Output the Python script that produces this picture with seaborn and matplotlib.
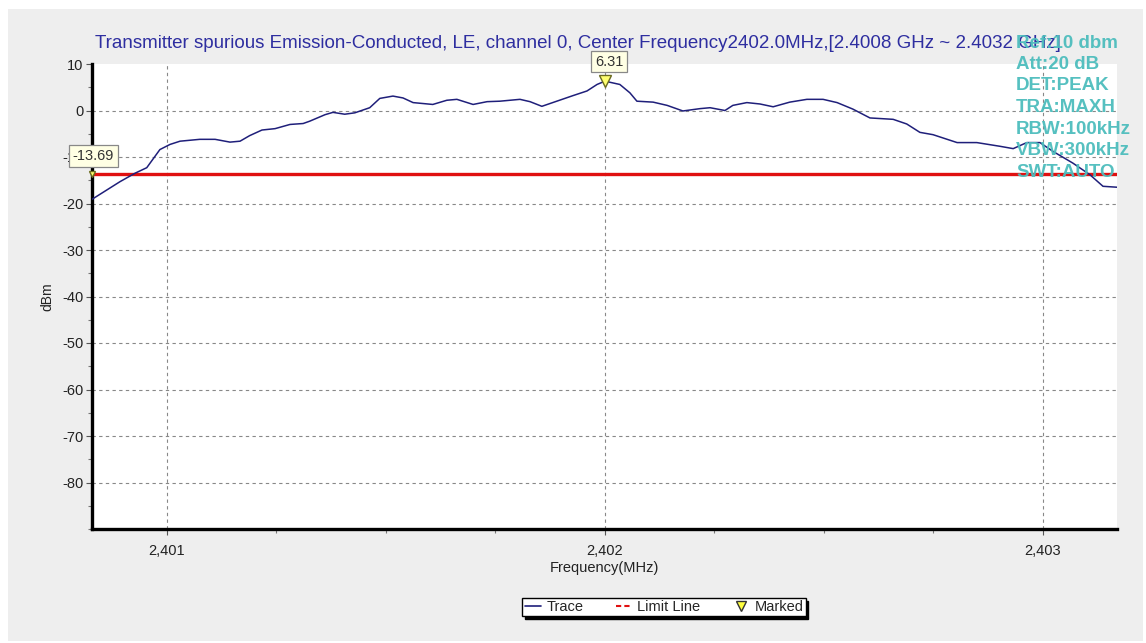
import matplotlib
matplotlib.use("Agg")
import matplotlib.pyplot as plt
from matplotlib.lines import Line2D
from matplotlib.patches import Rectangle
from matplotlib.ticker import MultipleLocator
import seaborn as sns
import pandas as pd

# ---- data ----
freq_mhz = [2400.829, 2400.893, 2400.927, 2400.954, 2400.984, 2401.007, 2401.030, 2401.075,
            2401.110, 2401.144, 2401.167, 2401.189, 2401.217, 2401.247, 2401.281, 2401.311,
            2401.326, 2401.361, 2401.379, 2401.406, 2401.429, 2401.463, 2401.486, 2401.516,
            2401.539, 2401.562, 2401.607, 2401.639, 2401.662, 2401.699, 2401.731, 2401.760,
            2401.806, 2401.829, 2401.856, 2401.890, 2401.927, 2401.959, 2401.982, 2402.000,
            2402.034, 2402.057, 2402.073, 2402.110, 2402.142, 2402.178, 2402.217, 2402.240,
            2402.274, 2402.292, 2402.324, 2402.354, 2402.384, 2402.422, 2402.461, 2402.498,
            2402.530, 2402.566, 2402.605, 2402.658, 2402.689, 2402.719, 2402.749, 2402.804,
            2402.849, 2402.902, 2402.932, 2402.963, 2402.993, 2403.023, 2403.068, 2403.107,
            2403.137, 2403.169]
level_dbm = [-19.1, -15.3, -13.5, -12.3, -8.4, -7.3, -6.6, -6.2,
             -6.2, -6.8, -6.6, -5.4, -4.2, -3.9, -3.0, -2.8,
             -2.3, -0.9, -0.4, -0.8, -0.5, 0.6, 2.6, 3.1,
             2.7, 1.7, 1.3, 2.2, 2.4, 1.3, 1.9, 2.0,
             2.4, 1.9, 0.9, 2.0, 3.2, 4.2, 5.6, 6.31,
             5.6, 3.8, 2.0, 1.8, 1.1, -0.1, 0.4, 0.6,
             0.0, 1.1, 1.7, 1.4, 0.8, 1.8, 2.4, 2.4,
             1.7, 0.3, -1.6, -1.9, -2.9, -4.7, -5.2, -6.9,
             -6.9, -7.7, -8.2, -6.9, -6.9, -8.8, -11.3, -13.8,
             -16.3, -16.5]

limit_dbm = -13.69
marker_freqs = [2402.000, 2400.829]
marker_levels = [6.31, -13.69]
marker_labels = ["6.31", "-13.69"]

x_ticks = [2401, 2402, 2403]
x_tick_labels = ["2,401", "2,402", "2,403"]
y_ticks = [10, 0, -10, -20, -30, -40, -50, -60, -70, -80]

title = ("Transmitter spurious Emission-Conducted, LE, channel 0, Center Frequency2402.0MHz,"
         "[2.4008 GHz ~ 2.4032 GHz]")
info_lines = ["Ref:10 dbm", "Att:20 dB", "DET:PEAK", "TRA:MAXH", "RBW:100kHz", "VBW:300kHz", "SWT:AUTO"]
legend_labels = ["Trace", "Limit Line", "Marked"]

# ---- style ----
sns.set_style("white")
plt.rcParams["font.family"] = ["Liberation Sans", "DejaVu Sans"]
plt.rcParams["axes.unicode_minus"] = False

W, H = 1146, 643
fig = plt.figure(figsize=(W / 100, H / 100), dpi=100, facecolor="white")
fig.patches.append(Rectangle((8 / W, 1 - 641 / H), (1143 - 8) / W, (641 - 9) / H,
                             transform=fig.transFigure, facecolor="#EEEEEE",
                             edgecolor="none", zorder=-10))

ax = fig.add_axes([92 / W, 1 - 529 / H, (1117 - 92) / W, (529 - 64) / H])
ax.set_facecolor("white")

df = pd.DataFrame({"Frequency": freq_mhz, "Level": level_dbm})
sns.lineplot(data=df, x="Frequency", y="Level", ax=ax, color="#1F1F7A",
             linewidth=1.1, zorder=4)
ax.axhline(limit_dbm, color="#E01010", linewidth=2.4, zorder=3)

ax.set_xlim(2400.829, 2403.169)
ax.set_ylim(-90, 10)

# grid
for y in y_ticks[1:]:
    ax.axhline(y, color="#888888", linewidth=0.8, linestyle=(0, (3, 3)), zorder=1)
for x in x_ticks:
    ax.axvline(x, color="#888888", linewidth=0.8, linestyle=(0, (3, 3)), zorder=1)

# spines
for s in ["top", "right"]:
    ax.spines[s].set_visible(False)
for s in ["left", "bottom"]:
    ax.spines[s].set_linewidth(2.4)
    ax.spines[s].set_color("black")

ax.set_xticks(x_ticks)
ax.set_xticklabels(x_tick_labels)
ax.xaxis.set_minor_locator(MultipleLocator(0.25))
ax.set_yticks(y_ticks)
ax.yaxis.set_minor_locator(MultipleLocator(5))
ax.tick_params(axis="both", which="major", direction="out", length=4, width=0.8,
               color="#555555", labelsize=10.5, labelcolor="#222222")
ax.tick_params(axis="x", which="major", pad=7)
ax.tick_params(axis="y", which="major", pad=2)
ax.tick_params(axis="both", which="minor", direction="out", length=3, width=0.8,
               color="#777777")
ax.tick_params(left=True, bottom=True, which="both")

ax.set_xlabel("Frequency(MHz)", fontsize=10.5, color="#222222", labelpad=2)
ax.set_ylabel("dBm", fontsize=10, color="#222222", labelpad=6)

# title
fig.text(95 / W, 1 - 44 / H, title, fontsize=13.5, color="#2E2EA0",
         ha="left", va="center")

# info text
for i, line in enumerate(info_lines):
    fig.text(1016 / W, 1 - (43 + i * 21.5) / H, line, fontsize=13.5, fontweight="bold",
             color="#4DBDBD", alpha=0.95, ha="left", va="center", zorder=20)

# markers
ax.plot(marker_freqs[0], marker_levels[0], marker="v", markersize=9,
        markerfacecolor="#FFFF70", markeredgecolor="#6B6B20", linestyle="none",
        zorder=6, clip_on=False)
ax.plot(marker_freqs[1], marker_levels[1], marker="v", markersize=5,
        markerfacecolor="#FFFF70", markeredgecolor="#6B6B20", linestyle="none",
        zorder=6, clip_on=False)
box = dict(boxstyle="square,pad=0.25", facecolor="#FFFFE4", edgecolor="#888888", linewidth=0.9)
ax.annotate(marker_labels[0], (marker_freqs[0], marker_levels[0]), xytext=(3, 14),
            textcoords="offset points", ha="center", va="center", fontsize=10.5,
            color="#333333", bbox=box, zorder=7, annotation_clip=False)
ax.annotate(marker_labels[1], (marker_freqs[1], marker_levels[1]), xytext=(1, 13),
            textcoords="offset points", ha="center", va="center", fontsize=10.5,
            color="#333333", bbox=box, zorder=7, annotation_clip=False)

# legend
handles = [Line2D([], [], color="#1F1F7A", linewidth=1.2),
           Line2D([], [], color="#E01010", linewidth=1.5, linestyle=(0, (2.5, 1.5))),
           Line2D([], [], marker="v", markersize=7, markerfacecolor="#FFFF40",
                  markeredgecolor="#333333", linestyle="none")]
leg = fig.legend(handles, legend_labels, loc="center",
                 bbox_to_anchor=(664 / W, 1 - 607 / H), ncol=3, fontsize=10.5,
                 frameon=True, fancybox=False, shadow={"color": "black", "alpha": 1},
                 edgecolor="black", facecolor="white", handlelength=1.1,
                 handletextpad=0.4, columnspacing=2.2, borderpad=0.15,
                 borderaxespad=0)
leg.get_frame().set_linewidth(1.0)

fig.savefig("out.png", dpi=100, facecolor=fig.get_facecolor())
